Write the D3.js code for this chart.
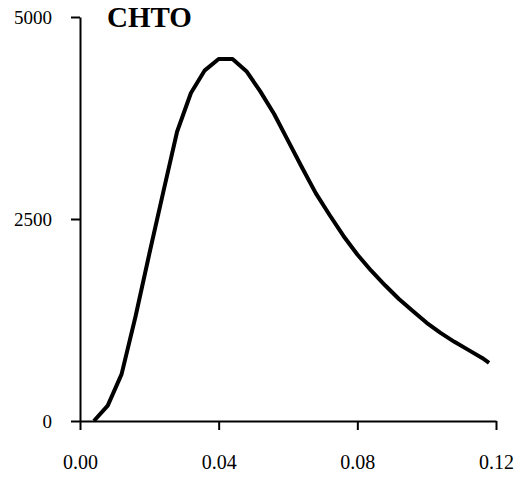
<!DOCTYPE html>
<html lang="en">
<head>
<meta charset="UTF-8" />
<title>CHTO</title>
<script src="https://d3js.org/d3.v7.min.js"></script>
<style>
  body { margin: 0; background: #fff; }
  svg text { font-family: "Liberation Serif", "Times New Roman", serif; fill: #000; }
</style>
</head>
<body>
<script>

// data
var xVals = [0.004, 0.008, 0.012, 0.016, 0.020, 0.024, 0.028, 0.032, 0.036, 0.040,
             0.044, 0.048, 0.052, 0.056, 0.060, 0.064, 0.068, 0.072, 0.076, 0.080,
             0.084, 0.088, 0.092, 0.096, 0.100, 0.104, 0.108, 0.112, 0.116, 0.118];
var yVals = [0, 190, 580, 1290, 2070, 2830, 3580, 4060, 4340, 4480,
             4480, 4330, 4080, 3800, 3470, 3140, 2820, 2550, 2290, 2060,
             1860, 1680, 1510, 1360, 1215, 1090, 980, 880, 780, 720];
var xTicks = [0, 0.04, 0.08, 0.12];
var yTicks = [0, 2500, 5000];
var title = "CHTO";

var width = 527, height = 484;

var svg = d3.select("body").append("svg")
  .attr("width", width)
  .attr("height", height);

var x = d3.scaleLinear().domain([0, 0.12]).range([80, 496]);
var y = d3.scaleLinear().domain([0, 5000]).range([421, 17]);

//y axis
var yAxis = svg.append("g")
  .attr("transform", "translate(80,0)")
  .call(d3.axisLeft(y).tickValues(yTicks).tickFormat(d3.format("d"))
    .tickSize(9).tickSizeOuter(0).tickPadding(19));

//x axis
var xAxis = svg.append("g")
  .attr("transform", "translate(0,421)")
  .call(d3.axisBottom(x).tickValues(xTicks).tickFormat(d3.format(".2f"))
    .tickSize(9).tickSizeOuter(0).tickPadding(25));

svg.selectAll(".domain, .tick line")
  .attr("stroke", "#000")
  .attr("stroke-width", 2);

yAxis.selectAll("text").attr("font-size", "19px").attr("fill", "#000");
xAxis.selectAll("text").attr("font-size", "20px").attr("fill", "#000");

//curve
var line = d3.line()
  .x(function(d) { return x(d[0]); })
  .y(function(d) { return y(d[1]); });

svg.append("path")
  .datum(d3.zip(xVals, yVals))
  .attr("fill", "none")
  .attr("stroke", "#000")
  .attr("stroke-width", 4)
  .attr("stroke-linejoin", "round")
  .attr("d", line);

//title
svg.append("text")
  .attr("x", 107)
  .attr("y", 27)
  .attr("font-size", "29px")
  .attr("font-weight", "bold")
  .text(title);

</script>
</body>
</html>
